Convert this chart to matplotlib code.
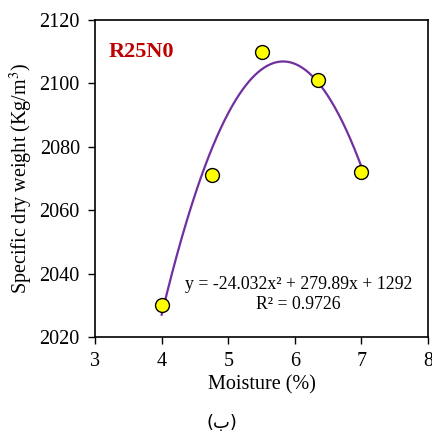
import numpy as np
import matplotlib.pyplot as plt

plt.rcParams['font.family'] = ['Liberation Serif', 'DejaVu Sans']
plt.rcParams['mathtext.fontset'] = 'stix'

# measured points
moisture = [4.0, 4.75, 5.5, 6.35, 7.0]
dry_weight = [2030, 2071, 2110, 2101, 2072]

# quadratic trend line from the chart
coef = [-24.032, 279.89, 1292]
r2 = 0.9726

fig = plt.figure(figsize=(4.32, 4.36), dpi=100)
ax = fig.add_axes([0.22, 0.227, 0.771, 0.727])

xs = np.linspace(min(moisture), max(moisture), 200)
ax.plot(xs, np.polyval(coef, xs), color='#7030A0', lw=1.6, zorder=2)
ax.plot(moisture, dry_weight, 'o', ms=10, mfc='#FFFF00', mec='black',
        mew=1.0, zorder=3)

ax.set_xlim(3, 8)
ax.set_ylim(2020, 2120)
ax.set_xticks(range(3, 9))
ax.set_yticks(range(2020, 2121, 20))
ax.tick_params(direction='out', length=5, width=1, labelsize=14.5, pad=6)
for s in ax.spines.values():
    s.set_linewidth(1.2)

ax.set_xlabel('Moisture (%)', fontsize=14.5, labelpad=3)
ax.set_ylabel('Specific dry weight (Kg/m$^3$)', fontsize=14.5, labelpad=3)

ax.text(0.04, 0.9, 'R25N0', transform=ax.transAxes, fontsize=16,
        fontweight='bold', color='#C00000', va='center')
ax.text(0.61, 0.165, 'y = -24.032x² + 279.89x + 1292', transform=ax.transAxes,
        fontsize=12.8, ha='center', va='center')
ax.text(0.61, 0.103, 'R² = 0.9726', transform=ax.transAxes,
        fontsize=12.8, ha='center', va='center')

fig.text(222 / 432, 1 - 423 / 436, '(ب)', fontsize=13, ha='center',
         va='center', family=['DejaVu Sans'])

fig.savefig('out.png', dpi=100)
